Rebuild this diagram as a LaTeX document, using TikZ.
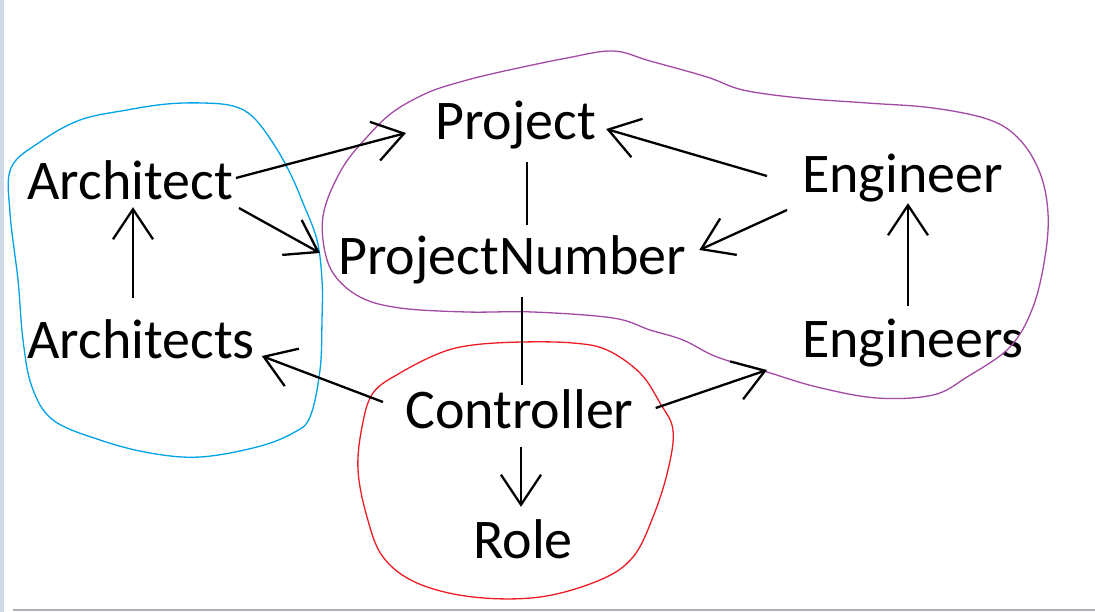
\documentclass[tikz,border=0pt]{standalone}
\usepackage{fontspec}
\setmainfont{Carlito}
\usepackage{xcolor}
\usetikzlibrary{arrows.meta,positioning,calc}

\definecolor{blobblue}{RGB}{0,162,232}
\definecolor{blobpurple}{RGB}{163,73,164}
\definecolor{blobred}{RGB}{237,28,36}
\definecolor{edgegray}{RGB}{172,176,182}
\definecolor{stripblue}{RGB}{208,217,232}

\begin{document}
\begin{tikzpicture}[
  x=1pt, y=-1pt,
  word/.style={
    anchor=base west, inner sep=0pt, text=black,
    text height=36pt, text depth=11pt,
    font=\fontsize{56pt}{62pt}\selectfont
  },
  link/.style={draw=black, line width=2.3pt},
  arr/.style={link, -{Straight Barb[length=30pt,width=40pt,line width=2.3pt]}},
  blob/.style={line width=1.3pt, smooth cycle, tension=0.6}
]
\useasboundingbox (0,0) rectangle (1095,612);

% screenshot edges
\fill[stripblue] (0,0) rectangle (4,612);
\draw[edgegray, line width=1.5pt] (13,610) -- (1095,610);

% Words
\node[word] (architect) at (27,200) {Architect};
\node[word] (architects) at (27,358) {Architects};
\node[word] (project) at (435,140) {Project};
\node[word] (projnum) at (338,275) {ProjectNumber};
\node[word] (engineer) at (802,193) {Engineer};
\node[word] (engineers) at (802,357) {Engineers};
\node[word] (controller) at (405,428) {Controller};
\node[word] (role) at (473,558) {Role};

% Groups (hand drawn loops)
\draw[blobblue, blob] plot coordinates {
  (11,168) (40,142) (80,120) (127,110) (167,104) (203,103) (233,106)
  (253,117) (273,143) (290,173) (303,203) (317,240) (322,280) (322,320)
  (320,370) (310,417) (293,433) (257,447) (200,457) (150,453) (100,440)
  (53,420) (32,387) (23,340) (18,280) (10,213)};
\draw[blobpurple, blob] plot coordinates {
  (613,51) (650,61) (707,77) (743,90) (800,98) (867,103) (933,108)
  (990,120) (1020,140) (1040,173) (1048,213) (1045,257) (1033,307)
  (1010,347) (967,377) (933,395) (877,398) (817,387) (767,372) (717,357)
  (683,340) (650,330) (613,318) (533,312) (467,312) (400,308) (360,297)
  (333,273) (323,240) (325,207) (343,167) (367,137) (393,112) (427,93)
  (460,82) (500,72) (567,58)};
\draw[blobred, blob] plot coordinates {
  (522,342) (573,343) (607,350) (640,373) (660,403) (673,430) (668,470)
  (653,517) (633,557) (600,580) (540,597) (473,597) (417,583) (383,557)
  (367,517) (358,470) (362,427) (373,393) (400,373) (440,353) (473,345)};

% Connectors
\draw[arr] ($(architect.east)+(3,-9.5)$) -- ($(project.west)+(-29,5.5)$);
\draw[arr] ($(architect.east)+(6,20.5)$) -- ($(projnum.west)+(-18,-9.5)$);
\draw[arr] ($(architects.north west)+(106,-24)$) -- ($(architect.south west)+(106,-4)$);
\draw[link] ($(project.south west)+(92,11)$) -- ($(projnum.north west)+(189,-14)$);
\draw[link] ($(projnum.south west)+(184,11)$) -- ($(controller.north west)+(117,-7)$);
\draw[arr] ($(controller.west)+(-22,-13.5)$) -- ($(architects.east)+(7,10.5)$);
\draw[arr] ($(controller.south west)+(116,8)$) -- ($(role.north west)+(48,-15)$);
\draw[arr] ($(controller.east)+(22,-7.5)$) -- ($(engineers.west)+(-35,25.5)$);
\draw[arr] ($(engineer.west)+(-35,-4.5)$) -- ($(project.east)+(10,1.5)$);
\draw[arr] ($(engineer.west)+(-15,29.5)$) -- ($(projnum.east)+(13,-12.5)$);
\draw[arr] ($(engineers.north west)+(106,-15)$) -- ($(engineer.south west)+(106,-1)$);

\end{tikzpicture}
\end{document}
